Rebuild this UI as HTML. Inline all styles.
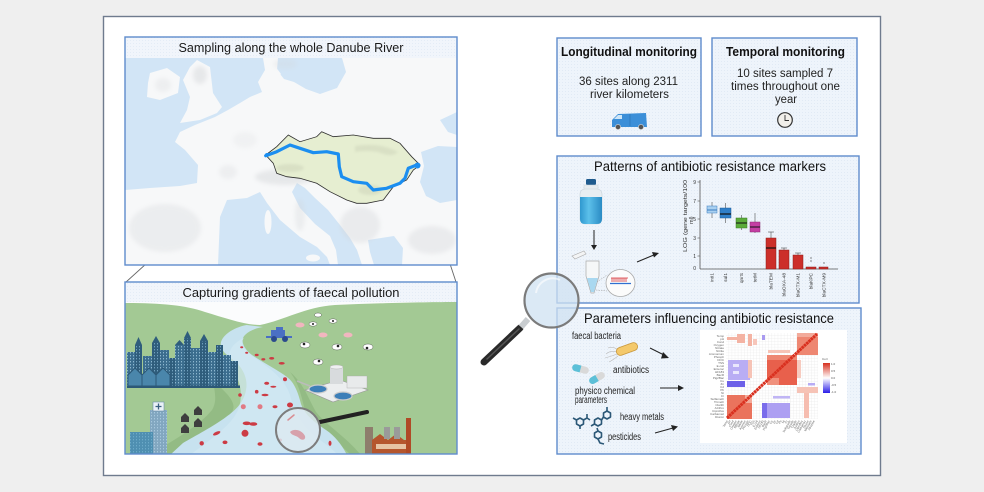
<!DOCTYPE html>
<html><head><meta charset="utf-8"><style>
html,body{margin:0;padding:0;background:#efefef;}
svg{display:block;}
text{font-family:"Liberation Sans",Arial,sans-serif;}
</style></head><body>
<svg width="984" height="492" viewBox="0 0 984 492" xmlns="http://www.w3.org/2000/svg">
<defs>
<pattern id="dots" width="3" height="3" patternUnits="userSpaceOnUse"><rect width="3" height="3" fill="#eef4fb"/><rect x="1" y="1" width="1" height="1" fill="#e1eaf5"/></pattern>
<pattern id="dots2" width="3" height="3" patternUnits="userSpaceOnUse"><rect width="3" height="3" fill="#f1f5fb"/><rect x="1" y="1" width="1" height="1" fill="#e4ecf6"/></pattern>
<pattern id="grid" width="3.07" height="2.87" patternUnits="userSpaceOnUse" x="726" y="333"><rect width="3.07" height="2.87" fill="#fff"/><path d="M3.07 0V2.87H0" fill="none" stroke="#e3e3e3" stroke-width=".5"/></pattern>
<pattern id="win" width="3" height="3" patternUnits="userSpaceOnUse"><rect width="3" height="3" fill="#3b6d8e"/><rect x="1" y="1" width="1" height="1.4" fill="#8db7cf"/></pattern>
<pattern id="win2" width="3" height="3" patternUnits="userSpaceOnUse"><rect width="3" height="3" fill="#2f5d7c"/><rect x="1" y="1" width="1" height="1.4" fill="#6f9fbd"/></pattern>
<linearGradient id="cbar" x1="0" y1="0" x2="0" y2="1"><stop offset="0" stop-color="#d7301f"/><stop offset=".5" stop-color="#fff"/><stop offset="1" stop-color="#2b1de8"/></linearGradient>
<linearGradient id="water" x1="0" y1="0" x2="1" y2="0"><stop offset="0" stop-color="#2f98cf"/><stop offset=".4" stop-color="#5cc0ea"/><stop offset="1" stop-color="#2a8bc4"/></linearGradient>
<filter id="blur" x="-20%" y="-20%" width="140%" height="140%"><feGaussianBlur stdDeviation="2"/></filter>
<filter id="blur1" x="-20%" y="-20%" width="140%" height="140%"><feGaussianBlur stdDeviation="1.2"/></filter>
<clipPath id="mapclip"><rect x="125" y="58" width="332" height="207"/></clipPath>
<clipPath id="landclip"><rect x="125" y="302" width="332" height="152"/></clipPath>
</defs>

<rect width="984" height="492" fill="#efefef"/>
<rect x="103.5" y="16.5" width="777" height="459" fill="#fff" stroke="#6f7b8e" stroke-width="1.4"/>

<!-- connector lines -->
<line x1="265.7" y1="155.7" x2="126" y2="282" stroke="#666" stroke-width="0.9"/>
<line x1="418" y1="167" x2="456" y2="282" stroke="#666" stroke-width="0.9"/>

<!-- ============ MAP PANEL ============ -->
<rect x="125" y="37" width="332" height="228" fill="url(#dots2)"/>
<g clip-path="url(#mapclip)">
  <rect x="125" y="58" width="332" height="207" fill="#f7f8f9"/>
  <!-- seas -->
  <path d="M125,58 L263,58 L265,70 L258,82 L262,92 L250,97 L240,103 L228,110 L215,117 L195,125 L180,132 L175,142 L185,150 L198,165 L197,183 L180,186 L150,188 L125,190 Z" fill="#d2e5f6"/>
  <path d="M278,58 L342,58 L346,72 L337,88 L320,94 L306,89 L294,82 L284,79 L277,70 Z" fill="#d2e5f6"/>
  <path d="M268,68 L275,66 L281,74 L275,80 L268,76 Z" fill="#f7f8f9"/>
  <path d="M218,265 L220,217 L227,200 L247,198 L260,192 L267,203 L280,220 L300,237 L317,247 L327,257 L330,265 Z" fill="#d2e5f6"/>
  <path d="M297,183 L292,192 L300,208 L315,224 L330,236 L336,250 L338,265 L362,265 L357,250 L350,238 L340,225 L328,210 L315,198 L305,188 Z" fill="#d2e5f6"/>
  <path d="M368,240 L394,236 L403,248 L402,265 L374,265 L370,252 Z" fill="#d2e5f6"/>
  <path d="M421,152 L438,146 L457,147 L457,200 L440,203 L426,196 L420,182 L424,166 Z" fill="#d2e5f6"/>
  <path d="M440,120 L457,112 L457,135 L448,132 Z" fill="#d2e5f6"/>
  <!-- islands -->
  <path d="M197,60 L210,67 L213,93 L222,107 L217,113 L200,120 L180,123 L187,110 L190,97 L183,80 L190,67 Z" fill="#f7f8f9"/>
  <path d="M150,73 L167,68 L180,77 L178,93 L160,100 L147,97 L148,83 Z" fill="#f7f8f9"/>
  <ellipse cx="268" cy="222" rx="3.5" ry="12" fill="#f7f8f9"/>
  <ellipse cx="313" cy="258" rx="7" ry="3.5" fill="#f7f8f9"/>
  <!-- relief (light) -->
  <g fill="#d3d5d8" filter="url(#blur)" opacity="0.45">
    <ellipse cx="200" cy="75" rx="7" ry="9"/>
    <ellipse cx="163" cy="85" rx="8" ry="7" opacity=".6"/>
    <ellipse cx="165" cy="228" rx="36" ry="24" opacity=".7"/>
    <ellipse cx="285" cy="177" rx="30" ry="8"/>
    <ellipse cx="228" cy="172" rx="9" ry="7" opacity=".6"/>
    <ellipse cx="300" cy="215" rx="5" ry="16" opacity=".7"/>
    <ellipse cx="360" cy="225" rx="20" ry="18" opacity=".8"/>
    <ellipse cx="432" cy="240" rx="24" ry="14" opacity=".8"/>
    <ellipse cx="285" cy="64" rx="12" ry="5" opacity=".6"/>
    <ellipse cx="245" cy="140" rx="12" ry="8" opacity=".4"/>
  </g>
  <!-- Danube basin -->
  <path d="M265.7,155 L276.7,146.7 L288.3,135 L300,141.7 L316.7,136.7 L321.7,131.7 L333.3,136.7 L353.3,135 L373.3,138.3 L390,138.3 L400,143.3 L411.7,156.7 L420,165 L413.3,170 L406.7,180 L393.3,186.7 L383.3,200 L366.7,203.3 L356.7,203.3 L346.7,200 L330,191.7 L316.7,183.3 L300,178.3 L286.7,176.7 L276.7,173.3 L273.3,163.3 Z" fill="#e6eed1" stroke="#2d2d2d" stroke-width="0.8"/>
  <g fill="#c6ccb3" filter="url(#blur1)" opacity="0.4">
    <path d="M355,146 Q380,142 398,152 Q392,158 378,152 Q365,150 355,152 Z"/>
    <ellipse cx="290" cy="168" rx="14" ry="4"/>
    <ellipse cx="370" cy="190" rx="12" ry="5"/>
  </g>
  <!-- river -->
  <polyline points="265.7,155.7 276.7,151.7 290,145 300,148.3 313.3,152.7 326.7,151.7 338.3,154 339.3,166.7 341.7,176.7 353.3,181.7 366.7,183.3 373.3,190 386.7,188.3 400,183.3 405,178.3 408.3,168.3 416.7,165" fill="none" stroke="#1b8ef0" stroke-width="3.2" stroke-linejoin="round" stroke-linecap="round"/>
  <circle cx="417.5" cy="165.5" r="3" fill="#1b8ef0"/>
  <circle cx="267" cy="155" r="2" fill="#1b8ef0"/>
</g>
<rect x="125" y="37" width="332" height="21" fill="url(#dots2)"/>
<text x="291" y="52" font-size="13" text-anchor="middle" fill="#1a1a1a" textLength="225" lengthAdjust="spacingAndGlyphs">Sampling along the whole Danube River</text>
<rect x="125" y="37" width="332" height="228" fill="none" stroke="#5f8ccc" stroke-width="1.4"/>

<!-- ============ LANDSCAPE PANEL ============ -->
<g clip-path="url(#landclip)">
  <rect x="125" y="302" width="332" height="152" fill="#fbfcfd"/>
  <path d="M125,303 C160,303 185,305 205,312 C225,318 245,325 260,325 C285,320 305,307 335,305 C380,303 430,302 457,302 L457,454 L125,454 Z" fill="#a3c994"/>
  <path d="M213,380 C225,392 238,402 232,412 C220,426 195,440 175,454 L150,454 C175,440 200,425 212,410 C218,400 214,390 213,380 Z" fill="#93bb84"/>
  <path d="M290,372 C300,385 302,400 306,414 C312,425 330,435 350,454 L360,454 C345,436 325,424 316,412 C308,398 304,384 290,372 Z" fill="#93bb84"/>
  <!-- river -->
  <path d="M246.7,325 C236,327 224,333 221,342 C219,350 228,356 236,362 C244,370 248,380 246,390 C244,402 236,410 226,417 C214,426 195,436 183,443 L170,455 L347,455 C342,445 335,436 326,430 C314,422 305,415 301,404 C298,392 294,382 287,377 C278,370 262,362 252,355 C243,348 240,340 245,335 C250,330 257,328 263,327 Z" fill="#c7e2ef"/>
  <path d="M244,338 C238,345 246,352 258,360 C272,370 285,380 290,395 C294,410 300,425 320,440 C330,447 335,452 338,455 L190,455 C210,440 232,425 238,410 C244,395 240,380 232,368 C226,358 228,345 244,338 Z" fill="#d3e9f3" opacity=".7"/>
  <!-- bacteria -->
  <g fill="#cc3b44">
    <ellipse cx="241.7" cy="347.3" rx="1.5" ry="1"/><ellipse cx="246.7" cy="352.7" rx="1.5" ry="1"/>
    <ellipse cx="256.7" cy="355" rx="2" ry="1.2"/><ellipse cx="263.3" cy="359.3" rx="2" ry="1.2"/>
    <ellipse cx="271.7" cy="358.3" rx="2.5" ry="1.3"/><ellipse cx="281.7" cy="363.3" rx="3" ry="1.3"/>
    <circle cx="285" cy="379.3" r="2"/><ellipse cx="266.7" cy="383.3" rx="2.5" ry="1.5"/>
    <ellipse cx="273.3" cy="386.7" rx="3" ry="1"/><circle cx="256.7" cy="391.7" r="1.8"/>
    <ellipse cx="265" cy="395" rx="3.5" ry="1.2"/><circle cx="240" cy="395" r="1.8"/>
    <circle cx="243.3" cy="406.7" r="2.5" fill="#e07a84"/><circle cx="260" cy="406.7" r="2.5" fill="#e07a84"/>
    <ellipse cx="275" cy="406.7" rx="2.5" ry="1.5"/><ellipse cx="290" cy="405" rx="3" ry="2.5"/>
    <ellipse cx="246.7" cy="423.3" rx="4" ry="1.8"/><ellipse cx="253.3" cy="424" rx="4" ry="1.8"/>
    <circle cx="245" cy="433.3" r="3.5"/><ellipse cx="216.7" cy="433.3" rx="4" ry="1.6" transform="rotate(-25 216.7 433.3)"/>
    <circle cx="201.7" cy="443.3" r="2.2"/><ellipse cx="225" cy="442.3" rx="2.5" ry="1.8"/>
    <ellipse cx="260" cy="444" rx="2.5" ry="1.8"/><ellipse cx="280" cy="440" rx="2" ry="1.5"/>
    <ellipse cx="330" cy="443.3" rx="1.5" ry="2.5"/>
  </g>
  <!-- skyline -->
  <g>
    <rect x="127" y="352" width="8" height="35" fill="url(#win)"/>
    <rect x="135" y="345" width="7" height="42" fill="url(#win2)"/>
    <rect x="143" y="356" width="9" height="31" fill="url(#win)"/>
    <rect x="152" y="343" width="8" height="44" fill="url(#win2)"/>
    <rect x="160" y="350" width="9" height="37" fill="url(#win)"/>
    <rect x="169" y="358" width="6" height="29" fill="url(#win2)"/>
    <rect x="175" y="345" width="9" height="42" fill="url(#win)"/>
    <rect x="184" y="338" width="7" height="49" fill="url(#win2)"/>
    <rect x="191" y="348" width="9" height="39" fill="url(#win)"/>
    <rect x="200" y="341" width="8" height="46" fill="url(#win2)"/>
    <rect x="208" y="352" width="8" height="35" fill="url(#win)"/>
    <rect x="216" y="345" width="7" height="42" fill="url(#win2)"/>
    <rect x="223" y="355" width="8" height="32" fill="url(#win)"/>
    <rect x="231" y="361" width="7" height="26" fill="url(#win2)"/>
    <path d="M135,345 L138.5,337 L142,345 Z M152,343 L156,336 L160,343 Z M184,338 L187.5,331 L191,338 Z M200,341 L204,334 L208,341 Z M175,345 L179.5,340 L184,345 Z" fill="#2f5d7c"/>
    <path d="M128,375 L135,368 L142,375 L142,387 L128,387 Z M142,375 L149,368 L156,375 L156,387 L142,387 Z M156,375 L163,368 L170,375 L170,387 L156,387 Z" fill="#4a86ab" stroke="#2c5877" stroke-width="1"/>
    <rect x="127" y="385.5" width="113" height="2.5" fill="#2c5877"/>
  </g>
  <!-- hospital -->
  <rect x="150" y="410" width="17" height="44" fill="#bcd6e8"/>
  <rect x="150" y="410" width="17" height="44" fill="url(#win)" opacity=".45"/>
  <rect x="153" y="402" width="11" height="9" fill="#e9f1f7" stroke="#6d8fa8" stroke-width=".6"/>
  <path d="M158.5,403.5v6M155.5,406.5h6" stroke="#3a5f80" stroke-width="1.3"/>
  <rect x="130" y="432" width="23" height="22" fill="#5aa2c4"/>
  <rect x="130" y="432" width="23" height="22" fill="url(#win)" opacity=".35"/>
  <!-- small houses -->
  <g fill="#3e3e3e">
    <path d="M181,417 L185,413 L189,417 L189,422 L181,422 Z"/>
    <path d="M194,410 L198,406 L202,410 L202,415 L194,415 Z"/>
    <path d="M181,428 L185,424 L189,428 L189,433 L181,433 Z"/>
    <path d="M194,422 L198,418 L202,422 L202,427 L194,427 Z"/>
  </g>
  <!-- tractor -->
  <g fill="#4a6fc4">
    <rect x="271" y="330" width="14" height="8"/>
    <rect x="276" y="327" width="7" height="4"/>
    <rect x="266" y="336" width="26" height="2"/>
    <circle cx="274" cy="339" r="3" fill="#2b4a8c"/>
    <circle cx="285" cy="339" r="3" fill="#2b4a8c"/>
  </g>
  <!-- animals -->
  <g>
    <ellipse cx="300" cy="325" rx="4.5" ry="2.5" fill="#f2b6bf"/>
    <ellipse cx="323" cy="335" rx="4.5" ry="2.5" fill="#f2b6bf"/>
    <ellipse cx="348" cy="335" rx="4.5" ry="2.5" fill="#f2b6bf"/>
    <g fill="#fff" stroke="#444" stroke-width=".4">
      <ellipse cx="318" cy="315" rx="3.5" ry="2"/>
      <ellipse cx="333" cy="321" rx="4" ry="2.2"/>
      <ellipse cx="313" cy="324" rx="4" ry="2.2"/>
      <ellipse cx="305" cy="345" rx="5" ry="3"/>
      <ellipse cx="337" cy="347" rx="5" ry="3"/>
      <ellipse cx="368" cy="347" rx="5" ry="3"/>
      <ellipse cx="318" cy="362" rx="5" ry="3"/>
    </g>
    <g fill="#222">
      <circle cx="304" cy="344" r="1.3"/><circle cx="338" cy="346" r="1.3"/><circle cx="367" cy="348" r="1.3"/><circle cx="319" cy="361" r="1.3"/><circle cx="333" cy="321" r="1"/><circle cx="313" cy="324" r="1"/>
    </g>
  </g>
  <!-- wastewater plant -->
  <path d="M305,390 L340,380 L368,390 L333,402 Z" fill="#eceeef" stroke="#999" stroke-width=".6"/>
  <rect x="330" y="367" width="13" height="17" fill="#d8dbdd"/>
  <ellipse cx="336.5" cy="367" rx="6.5" ry="2" fill="#eff0f1" stroke="#aaa" stroke-width=".4"/>
  <rect x="347" y="376" width="20" height="12" fill="#e8eaeb" stroke="#aaa" stroke-width=".4"/>
  <ellipse cx="318" cy="389" rx="9" ry="4" fill="#3d7fb8" stroke="#ccc" stroke-width="1.2"/>
  <ellipse cx="343" cy="396" rx="9" ry="4" fill="#3d7fb8" stroke="#ccc" stroke-width="1.2"/>
  <line x1="297" y1="381" x2="310" y2="386" stroke="#bbb" stroke-width="1.5"/>
  <!-- factory -->
  <rect x="365" y="427" width="8" height="27" fill="#8e7d6c"/>
  <path d="M372,440 L380,434 L388,440 L396,434 L404,440 L410,440 L410,454 L372,454 Z" fill="#b5562e"/>
  <rect x="376" y="444" width="30" height="5" fill="#e6c3a4"/>
  <rect x="384" y="427" width="6" height="12" fill="#9a9a9a"/>
  <rect x="394" y="427" width="6" height="12" fill="#9a9a9a"/>
  <rect x="406" y="418" width="5" height="36" fill="#b04a26"/>
  <!-- lens -->
  <line x1="320" y1="422" x2="367" y2="412" stroke="#222" stroke-width="4" stroke-linecap="round"/>
  <circle cx="298" cy="430" r="22" fill="#dce9f1" fill-opacity=".85" stroke="#7d7d7d" stroke-width="2"/>
  <path d="M290,432 C294,428 302,430 305,436 C306,440 302,441 299,438 C296,435 292,436 290,432 Z" fill="#d7a1ab"/>
  <path d="M288,420 L294,415" stroke="#d98d93" stroke-width="1.5" stroke-linecap="round"/>
</g>
<rect x="125" y="282" width="332" height="20" fill="url(#dots2)"/>
<text x="291" y="297" font-size="13" text-anchor="middle" fill="#1a1a1a" textLength="217" lengthAdjust="spacingAndGlyphs">Capturing gradients of faecal pollution</text>
<rect x="125" y="282" width="332" height="172" fill="none" stroke="#5f8ccc" stroke-width="1.4"/>

<!-- ============ TOP RIGHT BOXES ============ -->
<rect x="557" y="38" width="144" height="98" fill="url(#dots)" stroke="#5f8ccc" stroke-width="1.4"/>
<text x="629" y="56" font-size="12.5" font-weight="bold" text-anchor="middle" fill="#111" textLength="136" lengthAdjust="spacingAndGlyphs">Longitudinal monitoring</text>
<text x="628.5" y="85" font-size="11.5" text-anchor="middle" fill="#222" textLength="99" lengthAdjust="spacingAndGlyphs">36 sites along 2311</text>
<text x="629.5" y="98" font-size="11.5" text-anchor="middle" fill="#222" textLength="79" lengthAdjust="spacingAndGlyphs">river kilometers</text>
<g>
  <path d="M612,127 L612,120 L618,114 L646,113 L647,127 Z" fill="#3c8fd8"/>
  <path d="M614,119 L618,115 L622,115 L622,119 Z" fill="#cfe6f7"/>
  <line x1="630" y1="114" x2="630" y2="126" stroke="#2a6fb0" stroke-width=".6"/>
  <circle cx="618" cy="127" r="2.6" fill="#555" stroke="#ddd" stroke-width=".6"/>
  <circle cx="641" cy="127" r="2.6" fill="#555" stroke="#ddd" stroke-width=".6"/>
</g>

<rect x="712" y="38" width="145" height="98" fill="url(#dots)" stroke="#5f8ccc" stroke-width="1.4"/>
<text x="785.5" y="56" font-size="12.5" font-weight="bold" text-anchor="middle" fill="#111" textLength="119" lengthAdjust="spacingAndGlyphs">Temporal monitoring</text>
<text x="785" y="77" font-size="11.5" text-anchor="middle" fill="#222" textLength="96" lengthAdjust="spacingAndGlyphs">10 sites sampled 7</text>
<text x="785.5" y="90" font-size="11.5" text-anchor="middle" fill="#222" textLength="109" lengthAdjust="spacingAndGlyphs">times throughout one</text>
<text x="786" y="103" font-size="11.5" text-anchor="middle" fill="#222" textLength="22" lengthAdjust="spacingAndGlyphs">year</text>
<circle cx="785" cy="120" r="7.3" fill="#f1efea" stroke="#333" stroke-width="1.2"/>
<path d="M785,115 V120.5 H789" fill="none" stroke="#333" stroke-width="0.9"/>

<!-- ============ PATTERNS PANEL ============ -->
<rect x="557" y="156" width="302" height="147" fill="url(#dots)" stroke="#5f8ccc" stroke-width="1.4"/>
<text x="710" y="171" font-size="14" text-anchor="middle" fill="#111" textLength="232" lengthAdjust="spacingAndGlyphs">Patterns of antibiotic resistance markers</text>
<!-- bottle -->
<rect x="586" y="179" width="10" height="6" rx="1.5" fill="#1f5b8e"/>
<rect x="584" y="185" width="14" height="5" fill="#e6ecf0" stroke="#c9d3da" stroke-width=".5"/>
<rect x="580" y="189" width="22" height="35" rx="5" fill="#e8eef2" stroke="#c9d3da" stroke-width=".6"/>
<path d="M580,197 H602 V219 Q602,224 597,224 H585 Q580,224 580,219 Z" fill="url(#water)"/>
<!-- arrow down -->
<line x1="594" y1="230" x2="594" y2="246" stroke="#222" stroke-width="1"/>
<path d="M591,245 L594,250 L597,245 Z" fill="#222"/>
<!-- tube -->
<path d="M572,256 L584,251 L586,254 L575,259 Z" fill="#f3f4f5" stroke="#aaa" stroke-width=".6"/>
<path d="M586,261 H599 V276 L594,293 L591,293 L586,276 Z" fill="#f5f7f8" stroke="#aaa" stroke-width=".7"/>
<path d="M587,278 H598 L594,292 L591,292 Z" fill="#a9d8f0"/>
<line x1="597" y1="282" x2="607" y2="275" stroke="#999" stroke-width=".5" stroke-dasharray="1.5,1"/>
<line x1="596" y1="290" x2="607" y2="291" stroke="#999" stroke-width=".5" stroke-dasharray="1.5,1"/>
<ellipse cx="620.5" cy="283" rx="14.5" ry="13.5" fill="#fbfbfb" stroke="#aaa" stroke-width=".8"/>
<path d="M611,278 h17 M612,278 v4 M614,278 v4 M616,278 v4 M618,278 v4 M620,278 v4 M622,278 v4 M624,278 v4 M626,278 v4" stroke="#d8363b" stroke-width=".8"/>
<line x1="610" y1="283.5" x2="631" y2="283.5" stroke="#2f6fd0" stroke-width="1.3"/>
<!-- arrow to chart -->
<line x1="637" y1="262" x2="655" y2="254.5" stroke="#222" stroke-width="1"/>
<path d="M652,252 L659,253 L654,257.5 Z" fill="#222"/>
<!-- chart -->
<g font-size="5" fill="#333">
  <line x1="700" y1="180" x2="700" y2="269" stroke="#555" stroke-width=".8"/>
  <line x1="700" y1="269" x2="838" y2="269" stroke="#555" stroke-width=".8"/>
  <g stroke="#555" stroke-width=".6">
    <line x1="697.5" y1="182" x2="700" y2="182"/><line x1="697.5" y1="201" x2="700" y2="201"/><line x1="697.5" y1="219" x2="700" y2="219"/><line x1="697.5" y1="238" x2="700" y2="238"/><line x1="697.5" y1="256" x2="700" y2="256"/>
  </g>
  <text x="696" y="184" text-anchor="end">9</text>
  <text x="696" y="203" text-anchor="end">7</text>
  <text x="696" y="221" text-anchor="end">5</text>
  <text x="696" y="240" text-anchor="end">3</text>
  <text x="696" y="258" text-anchor="end">1</text>
  <text x="696" y="270" text-anchor="end">0</text>
  <text transform="translate(687,252) rotate(-90)" font-size="5.5" textLength="72" lengthAdjust="spacingAndGlyphs">LOG (gene targets/100</text>
  <text transform="translate(693,224) rotate(-90)" font-size="5.5">ml)</text>
</g>
<!-- boxplots -->
<g stroke="#333" stroke-width=".5">
  <line x1="712" y1="202" x2="712" y2="218"/>
  <rect x="707" y="206" width="10" height="7" fill="#a9d0f0" stroke="#3a7cc0"/>
  <line x1="707" y1="210" x2="717" y2="210" stroke="#3a7cc0" stroke-width="1"/>
  <line x1="725.5" y1="203" x2="725.5" y2="223"/>
  <rect x="720" y="208" width="11" height="10" fill="#2f7fc9" stroke="#1d5a96"/>
  <line x1="720" y1="214" x2="731" y2="214" stroke="#111" stroke-width="1.2"/>
  <line x1="741.5" y1="215" x2="741.5" y2="230"/>
  <rect x="736" y="218" width="11" height="10" fill="#5bab3a" stroke="#3a7d22"/>
  <line x1="736" y1="223" x2="747" y2="223" stroke="#111" stroke-width="1"/>
  <line x1="755" y1="213" x2="755" y2="233"/>
  <rect x="750" y="222" width="10" height="10" fill="#c43fa3" stroke="#8a2a72"/>
  <line x1="750" y1="227" x2="760" y2="227" stroke="#111" stroke-width="1"/>
  <line x1="771" y1="232" x2="771" y2="238"/>
  <line x1="768" y1="232" x2="774" y2="232"/>
  <rect x="766" y="238" width="10" height="31" fill="#cc2f2a" stroke="#8a1d1a"/>
  <line x1="766" y1="248" x2="776" y2="248" stroke="#111" stroke-width="1.2"/>
  <line x1="784" y1="248" x2="784" y2="250"/><line x1="781" y1="248" x2="787" y2="248"/>
  <rect x="779" y="250" width="10" height="19" fill="#cc2f2a" stroke="#8a1d1a"/>
  <line x1="798" y1="253" x2="798" y2="255"/><line x1="795" y1="253" x2="801" y2="253"/>
  <rect x="793" y="255" width="10" height="14" fill="#cc2f2a" stroke="#8a1d1a"/>
  <rect x="806" y="267" width="10" height="2" fill="#cc2f2a" stroke="#8a1d1a"/>
  <rect x="819" y="267" width="9" height="2" fill="#cc2f2a" stroke="#8a1d1a"/>
</g>
<g fill="#333"><circle cx="811" cy="258" r=".6"/><circle cx="811" cy="261" r=".6"/><circle cx="824" cy="263" r=".6"/></g>
<g font-size="4.8" fill="#333">
  <text transform="translate(713.5,273) rotate(-90)" text-anchor="end">intI1</text>
  <text transform="translate(727,273) rotate(-90)" text-anchor="end">sul1</text>
  <text transform="translate(743,273) rotate(-90)" text-anchor="end">qnrS</text>
  <text transform="translate(756.5,273) rotate(-90)" text-anchor="end">tetM</text>
  <text transform="translate(772.5,273) rotate(-90)" text-anchor="end">blaTEM</text>
  <text transform="translate(785.5,273) rotate(-90)" text-anchor="end">blaOXA-48</text>
  <text transform="translate(799.5,273) rotate(-90)" text-anchor="end">blaCTX-M1</text>
  <text transform="translate(812.5,273) rotate(-90)" text-anchor="end">blaKPC</text>
  <text transform="translate(825.5,273) rotate(-90)" text-anchor="end">blaCTX-M9</text>
</g>

<!-- ============ PARAMETERS PANEL ============ -->
<rect x="557" y="308" width="304" height="146" fill="url(#dots)" stroke="#5f8ccc" stroke-width="1.4"/>
<text x="709" y="323" font-size="14" text-anchor="middle" fill="#111" textLength="250" lengthAdjust="spacingAndGlyphs">Parameters influencing antibiotic resistance</text>
<g font-size="10" fill="#222">
  <text x="572" y="339" textLength="49" lengthAdjust="spacingAndGlyphs">faecal bacteria</text>
  <text x="613" y="373" textLength="36" lengthAdjust="spacingAndGlyphs">antibiotics</text>
  <text x="575" y="394" textLength="60" lengthAdjust="spacingAndGlyphs">physico chemical</text>
  <text x="575" y="403" textLength="32" lengthAdjust="spacingAndGlyphs">parameters</text>
  <text x="620" y="420" textLength="44" lengthAdjust="spacingAndGlyphs">heavy metals</text>
  <text x="608" y="440" textLength="33" lengthAdjust="spacingAndGlyphs">pesticides</text>
</g>
<!-- bacterium -->
<g stroke="#bbb" stroke-width=".6" fill="none">
  <path d="M617,352 Q611,350 606,354"/><path d="M617,354 Q612,356 605,358"/><path d="M618,350 Q613,346 608,348"/><path d="M618,356 Q613,360 609,362"/>
</g>
<rect x="616" y="345" width="22" height="8" rx="4" fill="#f4c96b" stroke="#c9983c" stroke-width=".8" transform="rotate(-20 627 349)"/>
<!-- pills -->
<g transform="rotate(15 580.5 369)">
  <rect x="572" y="365.5" width="17" height="7" rx="3.5" fill="#d9d9d9"/>
  <path d="M580.5,365.5 H575.5 A3.5,3.5 0 0 0 575.5,372.5 H580.5 Z" fill="#5cc0d8"/>
</g>
<g transform="rotate(-30 597 378)">
  <rect x="588.5" y="374.5" width="17" height="7" rx="3.5" fill="#d9d9d9"/>
  <path d="M597,374.5 H592 A3.5,3.5 0 0 0 592,381.5 H597 Z" fill="#5cc0d8"/>
</g>
<!-- molecules -->
<g fill="none" stroke="#2c5877" stroke-width="1.6" stroke-linejoin="round">
  <polygon points="580,418 583.5,420 583.5,424 580,426 576.5,424 576.5,420"/>
  <path d="M583.5,420 L587,418 L587,414 M587,418 L590,420 M580,426 L580,429 M576.5,420 L573,418"/>
  <polygon points="598,418 601.5,420 601.5,424 598,426 594.5,424 594.5,420"/>
  <polygon points="607,411 610.5,413 610.5,417 607,419 603.5,417 603.5,413"/>
  <path d="M601.5,420 L603.5,417 M607,411 L607,407 M594.5,424 L591,426"/>
  <polygon points="598,431 601.5,433 601.5,437 598,439 594.5,437 594.5,433"/>
  <path d="M598,439 L600,443 L604,444 M598,431 L597,428"/>
</g>
<!-- arrows -->
<g stroke="#222" stroke-width="1">
  <line x1="650" y1="348" x2="665" y2="355.5"/>
  <line x1="660" y1="388" x2="679" y2="388"/>
  <line x1="655" y1="433" x2="673" y2="428"/>
</g>
<g fill="#222">
  <path d="M663,352 L669,358 L661,358.5 Z"/>
  <path d="M678,385 L684,388 L678,391 Z"/>
  <path d="M671,425 L678,426.5 L673,431 Z"/>
</g>
<!-- heatmap -->
<rect x="700" y="330" width="147" height="113" fill="#fff"/>
<rect x="726" y="333" width="92" height="86" fill="url(#grid)"/>
<g>
  <rect x="727" y="337" width="14" height="3" fill="#f4b3a3"/>
  <rect x="737" y="334" width="8" height="9" fill="#f4b3a3"/>
  <rect x="748" y="334" width="4" height="12" fill="#f4b3a3"/>
  <rect x="753" y="339" width="4" height="6" fill="#f7c6ba"/>
  <rect x="762" y="335" width="3" height="5" fill="#a99af0"/>
  <rect x="797" y="333" width="21" height="22" fill="#ee8772"/>
  <rect x="797" y="333" width="21" height="4" fill="#f3ab9b"/>
  <rect x="768" y="350" width="22" height="3" fill="#f6c3b6"/>
  <rect x="767" y="355" width="30" height="30" fill="#e8604c"/>
  <rect x="767" y="355" width="30" height="5" fill="#ee8772"/>
  <rect x="767" y="378" width="12" height="7" fill="#f0917d"/>
  <rect x="728" y="360" width="22" height="20" fill="#b9adf4"/>
  <rect x="733" y="364" width="6" height="3" fill="#fff" opacity=".7"/>
  <rect x="733" y="371" width="6" height="3" fill="#fff" opacity=".7"/>
  <rect x="748" y="360" width="4" height="18" fill="#f6c3b6"/>
  <rect x="727" y="381" width="18" height="6" fill="#6d61e8"/>
  <rect x="727" y="395" width="25" height="24" fill="#ea735d"/>
  <rect x="745" y="395" width="7" height="8" fill="#f3ab9b"/>
  <rect x="762" y="403" width="28" height="15" fill="#ad9ff2"/>
  <rect x="762" y="403" width="5" height="15" fill="#7a6ceb"/>
  <rect x="773" y="396" width="17" height="2.5" fill="#c0b5f5"/>
  <rect x="797" y="387" width="21" height="6" fill="#f6c3b6"/>
  <rect x="804" y="393" width="5" height="25" fill="#f6bdb0"/>
  <rect x="808" y="383" width="7" height="2.5" fill="#b8acf5"/>
  <rect x="797" y="360" width="4" height="18" fill="#f7cbbf"/>
</g>
<line x1="727" y1="418" x2="817" y2="334" stroke="#d9301f" stroke-width="3" stroke-dasharray="2.6,0.5"/>
<rect x="823" y="363" width="7" height="30" fill="url(#cbar)"/>
<g font-size="3" fill="#555">
  <text x="822" y="360">Corr</text>
  <text x="831" y="365">1.0</text><text x="831" y="372">0.5</text><text x="831" y="379">0.0</text><text x="831" y="386">-0.5</text><text x="831" y="393">-1.0</text>
</g>
<g font-size="3" fill="#666" text-anchor="end">
  <text x="724" y="337">Temp</text><text x="724" y="340">pH</text><text x="724" y="343">Cond</text><text x="724" y="346">Oxygen</text><text x="724" y="349">Nitrate</text><text x="724" y="352">Nitrite</text><text x="724" y="355">Ammonium</text><text x="724" y="358">Phosph</text><text x="724" y="361">DOC</text><text x="724" y="364">TSS</text><text x="724" y="367">E.coli</text><text x="724" y="370">Enteroc</text><text x="724" y="373">HF183</text><text x="724" y="376">BacR</text><text x="724" y="379">Pig2Bac</text><text x="724" y="382">Cu</text><text x="724" y="385">Zn</text><text x="724" y="388">Cd</text><text x="724" y="391">Pb</text><text x="724" y="394">Ni</text><text x="724" y="397">Cr</text><text x="724" y="400">Sulfameth</text><text x="724" y="403">Trimeth</text><text x="724" y="406">Clarith</text><text x="724" y="409">Azithro</text><text x="724" y="412">Ciproflox</text><text x="724" y="415">Carbamaz</text><text x="724" y="418">Diuron</text>
</g>
<g font-size="3" fill="#666" text-anchor="end">
  <text transform="translate(728,421) rotate(-60)">Temp</text><text transform="translate(731,421) rotate(-60)">pH</text><text transform="translate(734,421) rotate(-60)">Cond</text><text transform="translate(737,421) rotate(-60)">Oxygen</text><text transform="translate(740,421) rotate(-60)">Nitrate</text><text transform="translate(743,421) rotate(-60)">Nitrite</text><text transform="translate(746,421) rotate(-60)">Ammon</text><text transform="translate(749,421) rotate(-60)">Phosph</text><text transform="translate(752,421) rotate(-60)">DOC</text><text transform="translate(755,421) rotate(-60)">TSS</text><text transform="translate(758,421) rotate(-60)">E.coli</text><text transform="translate(761,421) rotate(-60)">Enteroc</text><text transform="translate(764,421) rotate(-60)">HF183</text><text transform="translate(767,421) rotate(-60)">BacR</text><text transform="translate(770,421) rotate(-60)">Pig2Bac</text><text transform="translate(773,421) rotate(-60)">Cu</text><text transform="translate(776,421) rotate(-60)">Zn</text><text transform="translate(779,421) rotate(-60)">Cd</text><text transform="translate(782,421) rotate(-60)">Pb</text><text transform="translate(785,421) rotate(-60)">Ni</text><text transform="translate(788,421) rotate(-60)">Cr</text><text transform="translate(791,421) rotate(-60)">Sulfameth</text><text transform="translate(794,421) rotate(-60)">Trimeth</text><text transform="translate(797,421) rotate(-60)">Clarith</text><text transform="translate(800,421) rotate(-60)">Azithro</text><text transform="translate(803,421) rotate(-60)">Ciproflox</text><text transform="translate(806,421) rotate(-60)">Carbamaz</text><text transform="translate(809,421) rotate(-60)">Diuron</text><text transform="translate(812,421) rotate(-60)">Metolach</text><text transform="translate(815,421) rotate(-60)">Atrazine</text>
</g>

<!-- ============ BIG MAGNIFIER ============ -->
<line x1="520" y1="328" x2="484" y2="362" stroke="#2a2a2a" stroke-width="7" stroke-linecap="round"/>
<line x1="519" y1="329" x2="487" y2="359" stroke="#555" stroke-width="1.5" stroke-linecap="round"/>
<line x1="528" y1="319" x2="521" y2="327" stroke="#c9cdd0" stroke-width="6"/>
<circle cx="551.5" cy="300.5" r="27" fill="#cfe2f1" fill-opacity=".75" stroke="#7b7b7b" stroke-width="2.2"/>
<path d="M536,293 A17,17 0 0 1 560,280" fill="none" stroke="#fff" stroke-width="2" opacity=".6"/>
</svg>
</body></html>
